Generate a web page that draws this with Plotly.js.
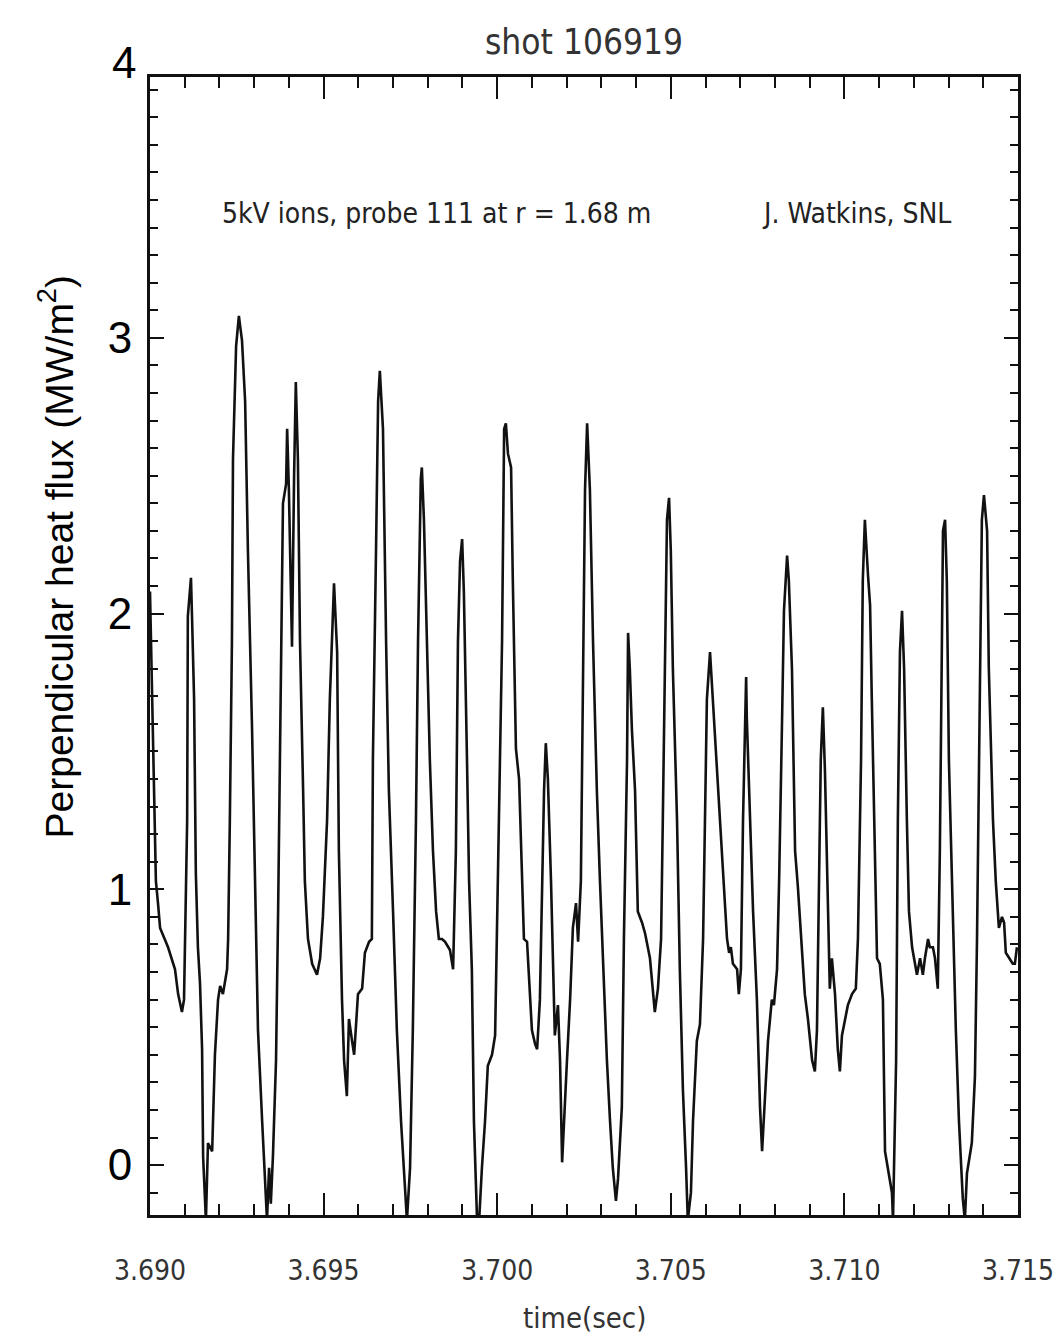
<!DOCTYPE html>
<html>
<head>
<meta charset="utf-8">
<script src="https://cdn.plot.ly/plotly-3.0.1.min.js"></script>
<style>html,body{margin:0;padding:0;background:#fff;}#chart{width:1054px;height:1343px;}</style>
</head>
<body>
<div id="chart"></div>
<script>
// time (s)
const time = [
3.69000,3.69006,3.69012,3.69017,3.69023,3.69029,3.69052,3.69072,3.69081,3.69092,3.69098,3.69107,3.69109,3.69118,3.69121,3.69127,3.69132,3.69138,3.69144,3.69150,
3.69153,3.69161,3.69167,3.69179,3.69187,3.69196,3.69202,3.69210,3.69222,3.69225,3.69230,3.69236,3.69239,3.69248,3.69256,3.69265,3.69274,3.69282,3.69294,3.69302,
3.69311,3.69323,3.69331,3.69337,3.69343,3.69348,3.69354,3.69363,3.69369,3.69374,3.69380,3.69383,3.69392,3.69395,3.69400,3.69406,3.69409,3.69415,3.69420,3.69426,
3.69432,3.69441,3.69446,3.69455,3.69467,3.69481,3.69490,3.69498,3.69510,3.69518,3.69527,3.69530,3.69539,3.69544,3.69553,3.69559,3.69567,3.69573,3.69582,3.69588,
3.69599,3.69611,3.69619,3.69631,3.69639,3.69642,3.69651,3.69657,3.69662,3.69671,3.69680,3.69688,3.69700,3.69711,3.69723,3.69734,3.69740,3.69749,3.69757,3.69766,
3.69772,3.69780,3.69783,3.69789,3.69798,3.69806,3.69815,3.69824,3.69832,3.69841,3.69850,3.69864,3.69873,3.69881,3.69887,3.69893,3.69899,3.69904,3.69913,3.69919,
3.69927,3.69933,3.69942,3.69948,3.69956,3.69965,3.69973,3.69985,3.69994,3.70002,3.70014,3.70020,3.70025,3.70031,3.70040,3.70045,3.70054,3.70063,3.70071,3.70077,
3.70086,3.70092,3.70100,3.70109,3.70115,3.70123,3.70129,3.70135,3.70140,3.70146,3.70155,3.70161,3.70166,3.70175,3.70181,3.70187,3.70192,3.70201,3.70210,3.70218,
3.70227,3.70233,3.70241,3.70247,3.70253,3.70259,3.70267,3.70276,3.70287,3.70296,3.70305,3.70316,3.70325,3.70333,3.70342,3.70348,3.70359,3.70365,3.70374,3.70377,
3.70382,3.70388,3.70397,3.70405,3.70417,3.70426,3.70440,3.70449,3.70454,3.70463,3.70472,3.70477,3.70483,3.70489,3.70495,3.70500,3.70506,3.70518,3.70526,3.70535,
3.70544,3.70549,3.70558,3.70564,3.70575,3.70584,3.70593,3.70598,3.70604,3.70613,3.70619,3.70627,3.70633,3.70647,3.70662,3.70668,3.70673,3.70679,3.70691,3.70696,
3.70702,3.70708,3.70717,3.70719,3.70728,3.70737,3.70748,3.70757,3.70763,3.70771,3.70780,3.70791,3.70797,3.70806,3.70812,3.70820,3.70826,3.70835,3.70840,3.70849,
3.70858,3.70866,3.70875,3.70886,3.70895,3.70907,3.70915,3.70921,3.70927,3.70932,3.70938,3.70944,3.70953,3.70958,3.70964,3.70973,3.70981,3.70987,3.70993,3.71002,
3.71010,3.71022,3.71033,3.71039,3.71048,3.71053,3.71059,3.71068,3.71074,3.71079,3.71085,3.71094,3.71102,3.71111,3.71117,3.71125,3.71137,3.71140,3.71149,3.71154,
3.71160,3.71166,3.71172,3.71180,3.71186,3.71195,3.71203,3.71209,3.71218,3.71226,3.71232,3.71241,3.71246,3.71255,3.71261,3.71269,3.71275,3.71281,3.71284,3.71290,
3.71295,3.71301,3.71313,3.71321,3.71330,3.71341,3.71347,3.71353,3.71367,3.71376,3.71382,3.71390,3.71396,3.71402,3.71411,3.71416,3.71428,3.71436,3.71445,3.71454,
3.71460,3.71465,3.71474,3.71485,3.71491,3.71497
];
// perpendicular heat flux (MW/m^2)
const heatFlux = [
2.08,1.69,1.25,1.03,0.95,0.86,0.79,0.71,0.62,0.555,0.60,1.25,1.99,2.13,1.99,1.69,1.06,0.79,0.66,0.42,
0.03,-0.2,0.08,0.05,0.40,0.60,0.65,0.62,0.71,0.82,1.25,1.90,2.56,2.97,3.08,2.99,2.77,2.23,1.58,1.03,
0.49,0.16,-0.05,-0.2,-0.01,-0.14,0.03,0.38,0.92,1.47,2.23,2.40,2.47,2.67,2.45,2.08,1.88,2.50,2.84,2.56,
1.90,1.36,1.03,0.82,0.73,0.69,0.75,0.90,1.25,1.69,2.06,2.11,1.86,1.14,0.60,0.38,0.25,0.53,0.45,0.40,
0.62,0.64,0.77,0.81,0.82,1.47,2.23,2.77,2.88,2.67,1.90,1.36,0.92,0.49,0.16,-0.10,-0.2,-0.01,0.49,1.25,
1.90,2.49,2.53,2.34,1.86,1.47,1.14,0.92,0.82,0.82,0.81,0.78,0.71,1.14,1.90,2.19,2.27,2.08,1.47,1.03,
0.71,0.16,-0.2,-0.2,-0.01,0.16,0.36,0.40,0.47,1.03,1.90,2.67,2.69,2.58,2.53,2.12,1.51,1.40,1.03,0.82,
0.81,0.66,0.49,0.44,0.42,0.60,1.03,1.36,1.53,1.40,1.03,0.71,0.47,0.58,0.38,0.01,0.16,0.38,0.60,0.86,
0.95,0.81,1.03,1.69,2.45,2.69,2.45,1.90,1.36,1.03,0.71,0.38,0.16,-0.01,-0.13,-0.05,0.21,0.82,1.47,1.93,
1.80,1.58,1.36,0.92,0.88,0.84,0.75,0.64,0.555,0.64,0.82,1.25,1.90,2.34,2.42,2.23,1.80,1.25,0.71,0.27,
-0.01,-0.2,-0.10,0.16,0.45,0.51,0.82,1.25,1.69,1.86,1.73,1.56,1.47,1.14,0.82,0.77,0.79,0.73,0.71,0.62,
0.71,1.25,1.77,1.62,1.25,0.92,0.60,0.21,0.05,0.23,0.45,0.60,0.58,0.71,1.03,1.58,2.01,2.21,2.12,1.80,
1.14,1.01,0.82,0.62,0.53,0.38,0.34,0.49,1.03,1.47,1.66,1.43,0.92,0.64,0.75,0.62,0.42,0.34,0.47,0.53,
0.58,0.62,0.64,0.82,1.47,2.12,2.34,2.14,2.03,1.69,1.25,0.75,0.73,0.60,0.05,-0.01,-0.10,-0.2,0.38,1.25,
1.86,2.01,1.80,1.25,0.92,0.79,0.73,0.69,0.75,0.69,0.75,0.82,0.79,0.79,0.75,0.64,1.14,1.90,2.30,2.34,
2.12,1.47,0.82,0.49,0.16,-0.12,-0.2,-0.03,0.08,0.32,0.82,1.69,2.34,2.43,2.30,1.80,1.25,1.03,0.86,0.90,
0.88,0.77,0.75,0.73,0.73,0.79
];
const yTickVals = [0, 1, 2, 3];
const yTickText = ['0', '1', '2', '3'];
const yTopLabel = '4';
const xTickVals = [3.690, 3.695, 3.700, 3.705, 3.710, 3.715];
const xTickText = ['3.690', '3.695', '3.700', '3.705', '3.710', '3.715'];

const yMin = -0.181, yMax = 3.946;
const idlFont = '"DejaVu Sans Condensed", "Liberation Sans", sans-serif';
const arial = '"Liberation Sans", Arial, sans-serif';

const trace = {
  x: time, y: heatFlux, type: 'scatter', mode: 'lines',
  line: {color: '#111', width: 2.6}, hoverinfo: 'skip'
};

const layout = {
  width: 1054, height: 1343,
  margin: {l: 150, r: 36, t: 77, b: 128},
  paper_bgcolor: '#fff', plot_bgcolor: '#fff',
  showlegend: false,
  title: {text: 'shot 106919', x: 0.5, xref: 'paper', y: 0.969, yref: 'container', yanchor: 'middle',
          font: {family: idlFont, size: 35, color: '#333'}},
  xaxis: {
    range: [3.690, 3.7150005], showgrid: false, zeroline: false,
    showline: true, linecolor: '#111', linewidth: 3, mirror: 'ticks',
    ticks: 'inside', ticklen: 22, tickwidth: 2, tickcolor: '#111',
    tickvals: xTickVals, ticktext: xTickText, ticklabelstandoff: 28,
    ticklabeloverflow: 'allow',
    tickfont: {family: idlFont, size: 28, color: '#333'},
    minor: {dtick: 0.001, tick0: 3.690, ticks: 'inside', ticklen: 11, tickwidth: 2, tickcolor: '#111', showgrid: false}
  },
  yaxis: {
    range: [yMin, yMax], showgrid: false, zeroline: false,
    showline: true, linecolor: '#111', linewidth: 3, mirror: 'ticks',
    ticks: 'inside', ticklen: 14, tickwidth: 2, tickcolor: '#111',
    tickvals: yTickVals, ticktext: yTickText, ticklabelstandoff: 6,
    tickfont: {family: arial, size: 44, color: '#000'},
    minor: {dtick: 0.1, tick0: 0, ticks: 'inside', ticklen: 8, tickwidth: 2, tickcolor: '#111', showgrid: false}
  },
  annotations: [
    {text: yTopLabel, xref: 'paper', x: 0, xanchor: 'right', xshift: -12, yref: 'paper', y: (4 - yMin) / (yMax - yMin), yanchor: 'middle',
     showarrow: false, font: {family: arial, size: 44, color: '#000'}},
    {text: 'Perpendicular heat flux (MW/m<sup>2</sup>)', xref: 'paper', x: -0.109, xanchor: 'center',
     yref: 'paper', y: 0.579, yanchor: 'middle', textangle: -90, showarrow: false,
     font: {family: arial, size: 39, color: '#000'}},
    {text: 'time(sec)', xref: 'paper', x: 0.5, xanchor: 'center', yref: 'paper', y: -0.0905, yanchor: 'middle',
     showarrow: false, font: {family: idlFont, size: 29, color: '#333'}},
    {text: '5kV ions, probe 111 at r = 1.68 m', xref: 'paper', x: 0.081, xanchor: 'left', yref: 'paper', y: 0.880, yanchor: 'middle',
     showarrow: false, font: {family: idlFont, size: 28, color: '#222'}},
    {text: 'J. Watkins, SNL', xref: 'paper', x: 0.703, xanchor: 'left', yref: 'paper', y: 0.880, yanchor: 'middle',
     showarrow: false, font: {family: idlFont, size: 28, color: '#222'}}
  ]
};

Plotly.newPlot('chart', [trace], layout, {displayModeBar: false, staticPlot: true});
</script>
</body>
</html>
